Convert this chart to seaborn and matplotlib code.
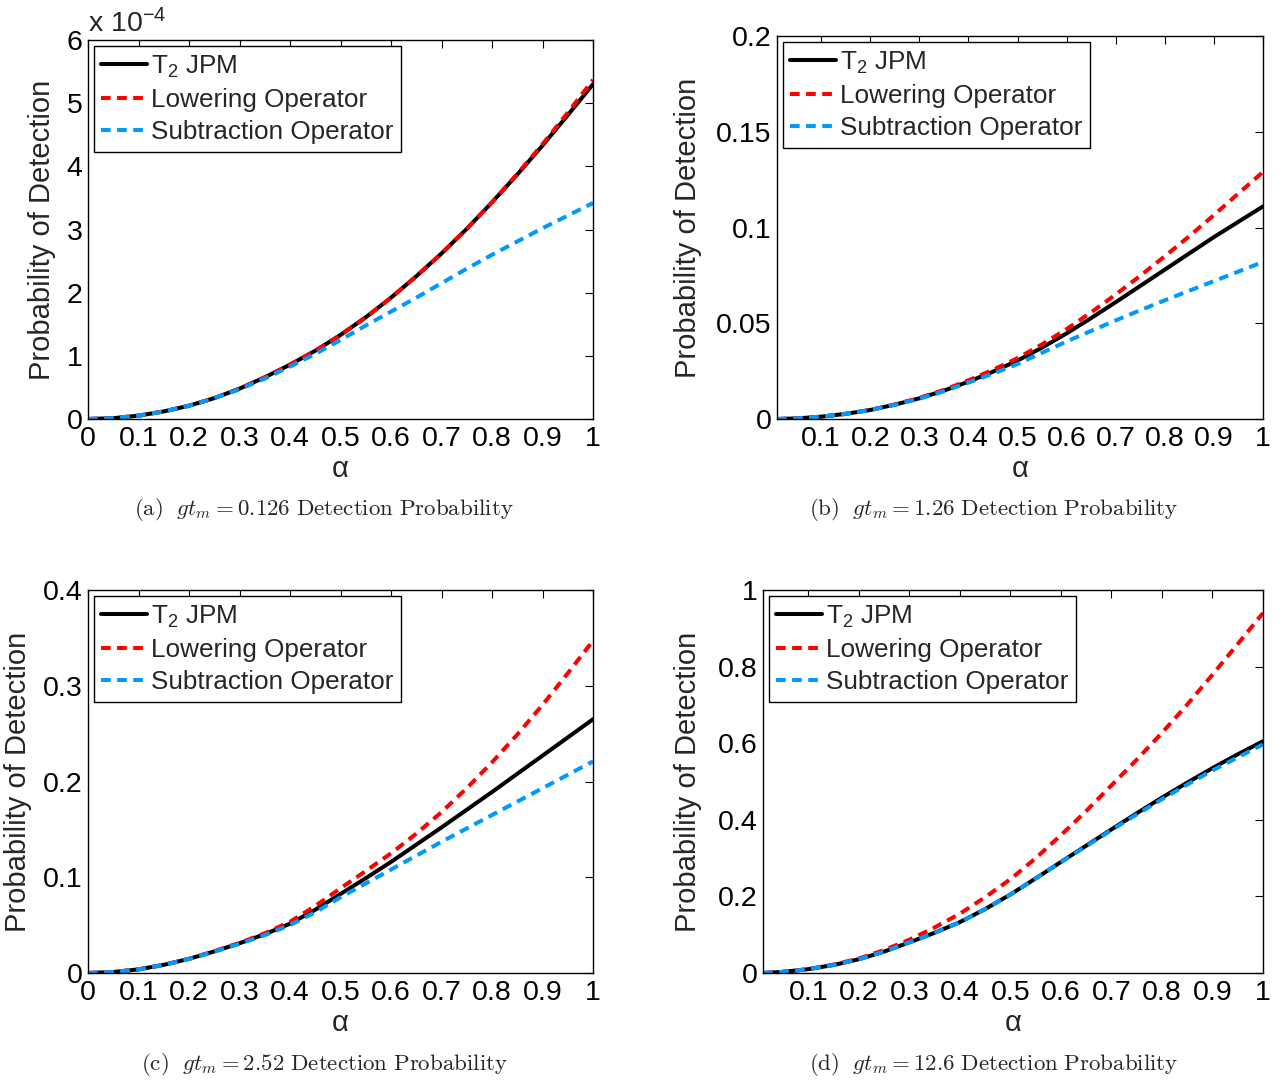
import numpy as np
import pandas as pd
import matplotlib
matplotlib.use("Agg")
import matplotlib.pyplot as plt
from matplotlib.ticker import FixedLocator, FixedFormatter
import seaborn as sns

# ---------------- data ----------------
alpha_a = [0, 0.05, 0.1, 0.15, 0.2, 0.25, 0.3, 0.35, 0.4, 0.45, 0.5,
           0.55, 0.6, 0.65, 0.7, 0.75, 0.8, 0.85, 0.9, 0.95, 1.0]
alpha_b = [0.01, 0.05, 0.1, 0.15, 0.2, 0.25, 0.3, 0.35, 0.4, 0.45, 0.5,
           0.55, 0.6, 0.65, 0.7, 0.75, 0.8, 0.85, 0.9, 0.95, 1.0]

# (a) gt_m = 0.126, values in units of 1e-4
a_jpm = [0, 0.013, 0.053, 0.12, 0.21, 0.33, 0.48, 0.66, 0.86, 1.08, 1.33,
         1.61, 1.92, 2.26, 2.62, 3.01, 3.43, 3.87, 4.33, 4.81, 5.30]
a_low = [0, 0.013, 0.053, 0.12, 0.21, 0.33, 0.48, 0.66, 0.86, 1.08, 1.33,
         1.61, 1.92, 2.26, 2.62, 3.01, 3.43, 3.88, 4.35, 4.85, 5.37]
a_sub = [0, 0.013, 0.053, 0.12, 0.21, 0.33, 0.47, 0.64, 0.83, 1.03, 1.25,
         1.48, 1.70, 1.92, 2.15, 2.38, 2.60, 2.81, 3.02, 3.22, 3.42]

# (b) gt_m = 1.26
b_jpm = [0, 0.0003, 0.0012, 0.0027, 0.0047, 0.0075, 0.0108, 0.0148, 0.0195, 0.0247, 0.0305,
         0.0373, 0.0447, 0.0527, 0.0610, 0.0695, 0.0780, 0.0865, 0.0950, 0.1030, 0.1110]
b_low = [0, 0.0003, 0.0012, 0.0027, 0.0047, 0.0076, 0.0110, 0.0152, 0.0202, 0.0257, 0.0318,
         0.0390, 0.0470, 0.0557, 0.0650, 0.0748, 0.0850, 0.0955, 0.1065, 0.1178, 0.1290]
b_sub = [0, 0.0003, 0.0012, 0.0027, 0.0047, 0.0074, 0.0106, 0.0145, 0.0190, 0.0237, 0.0287,
         0.0346, 0.0405, 0.0460, 0.0515, 0.0568, 0.0620, 0.0670, 0.0720, 0.0770, 0.0820]

# (c) gt_m = 2.52
c_jpm = [0, 0.001, 0.0038, 0.0085, 0.0148, 0.0225, 0.031, 0.0405, 0.0515, 0.066, 0.0825,
         0.099, 0.116, 0.134, 0.152, 0.1705, 0.189, 0.208, 0.227, 0.246, 0.265]
c_low = [0, 0.001, 0.0038, 0.0085, 0.0148, 0.0227, 0.0315, 0.0415, 0.0535, 0.070, 0.0885,
         0.1065, 0.125, 0.1455, 0.168, 0.193, 0.220, 0.249, 0.280, 0.313, 0.347]
c_sub = [0, 0.001, 0.0038, 0.0085, 0.0147, 0.0222, 0.0305, 0.0395, 0.050, 0.0635, 0.079,
         0.0935, 0.108, 0.1225, 0.137, 0.151, 0.165, 0.179, 0.193, 0.207, 0.221]

# (d) gt_m = 12.6
d_jpm = [0, 0.003, 0.010, 0.021, 0.036, 0.056, 0.080, 0.105, 0.133, 0.167, 0.205,
         0.247, 0.290, 0.3325, 0.375, 0.417, 0.458, 0.497, 0.535, 0.571, 0.605]
d_low = [0, 0.003, 0.010, 0.022, 0.038, 0.060, 0.087, 0.119, 0.155, 0.198, 0.245,
         0.300, 0.360, 0.423, 0.490, 0.557, 0.627, 0.701, 0.779, 0.859, 0.940]
d_sub = [0, 0.003, 0.010, 0.021, 0.036, 0.056, 0.080, 0.105, 0.133, 0.167, 0.205,
         0.247, 0.290, 0.331, 0.373, 0.414, 0.454, 0.492, 0.529, 0.563, 0.597]

series_labels = ["T$_2$ JPM", "Lowering Operator", "Subtraction Operator"]
captions = [r"$\mathrm{(a)}\ \ gt_m = 0.126\ \mathrm{Detection\ Probability}$",
            r"$\mathrm{(b)}\ \ gt_m = 1.26\ \mathrm{Detection\ Probability}$",
            r"$\mathrm{(c)}\ \ gt_m = 2.52\ \mathrm{Detection\ Probability}$",
            r"$\mathrm{(d)}\ \ gt_m = 12.6\ \mathrm{Detection\ Probability}$"]

xticks_full = [0, 0.1, 0.2, 0.3, 0.4, 0.5, 0.6, 0.7, 0.8, 0.9, 1]
xticklabels_full = ["0", "0.1", "0.2", "0.3", "0.4", "0.5", "0.6", "0.7", "0.8", "0.9", "1"]

yticks_a = [0, 1e-4, 2e-4, 3e-4, 4e-4, 5e-4, 6e-4]
yticklabels_a = ["0", "1", "2", "3", "4", "5", "6"]
yticks_b = [0, 0.05, 0.1, 0.15, 0.2]
yticklabels_b = ["0", "0.05", "0.1", "0.15", "0.2"]
yticks_c = [0, 0.1, 0.2, 0.3, 0.4]
yticklabels_c = ["0", "0.1", "0.2", "0.3", "0.4"]
yticks_d = [0, 0.2, 0.4, 0.6, 0.8, 1.0]
yticklabels_d = ["0", "0.2", "0.4", "0.6", "0.8", "1"]

# ---------------- style ----------------
sns.set_style("white")
plt.rcParams["font.family"] = ["Liberation Sans", "DejaVu Sans"]
plt.rcParams["mathtext.fontset"] = "custom"
plt.rcParams["mathtext.rm"] = "Liberation Sans"
plt.rcParams["mathtext.it"] = "Liberation Sans:italic"
plt.rcParams["mathtext.bf"] = "Liberation Sans:bold"
plt.rcParams["xtick.direction"] = "in"
plt.rcParams["ytick.direction"] = "in"

BLACK = "#000000"
RED = "#ff0000"
BLUE = "#0099ff"
DASH = (0, (2.4, 1.6))
LW = 2.9

fig = plt.figure(figsize=(12.83, 10.83), dpi=100)

W, H = 1283.0, 1083.0
def rect(l, t, r, b):
    return [l / W, 1 - b / H, (r - l) / W, (b - t) / H]

panels = [
    dict(rect=rect(88, 40, 593, 419), x=alpha_a, ys=[np.array(a_jpm) * 1e-4, np.array(a_low) * 1e-4, np.array(a_sub) * 1e-4],
         xlim=(0, 1), ylim=(0, 6e-4), yt=yticks_a, ytl=yticklabels_a, ylx=-0.063, cap=(324, 510), full=True),
    dict(rect=rect(777, 36, 1263, 419), x=alpha_b, ys=[b_jpm, b_low, b_sub],
         xlim=(0.01, 1), ylim=(0, 0.2), yt=yticks_b, ytl=yticklabels_b, ylx=-0.154, cap=(994, 510), full=False),
    dict(rect=rect(88, 590, 593, 973), x=alpha_a, ys=[c_jpm, c_low, c_sub],
         xlim=(0, 1), ylim=(0, 0.4), yt=yticks_c, ytl=yticklabels_c, ylx=-0.111, cap=(324, 1064), full=True),
    dict(rect=rect(763, 590, 1263, 973), x=alpha_b, ys=[d_jpm, d_low, d_sub],
         xlim=(0.01, 1), ylim=(0, 1.0), yt=yticks_d, ytl=yticklabels_d, ylx=-0.122, cap=(994, 1064), full=False),
]

for i, p in enumerate(panels):
    ax = fig.add_axes(p["rect"])
    colors = [BLACK, RED, BLUE]
    styles = ["-", DASH, DASH]
    for y, col, ls, lab in zip(p["ys"], colors, styles, series_labels):
        df = pd.DataFrame({"alpha": p["x"], "P": y})
        sns.lineplot(data=df, x="alpha", y="P", ax=ax, color=col, linestyle=ls,
                     linewidth=LW, label=lab, sort=False)
    ax.set_xlim(*p["xlim"])
    ax.set_ylim(*p["ylim"])
    if p["full"]:
        ax.xaxis.set_major_locator(FixedLocator(xticks_full))
        ax.xaxis.set_major_formatter(FixedFormatter(xticklabels_full))
    else:
        ax.xaxis.set_major_locator(FixedLocator(xticks_full[1:]))
        ax.xaxis.set_major_formatter(FixedFormatter(xticklabels_full[1:]))
    ax.yaxis.set_major_locator(FixedLocator(p["yt"]))
    ax.yaxis.set_major_formatter(FixedFormatter(p["ytl"]))
    ax.tick_params(axis="both", which="major", labelsize=20.5, length=6, width=0.8,
                   top=True, right=True, color="black", labelcolor="black")
    ax.tick_params(axis="x", pad=5)
    ax.tick_params(axis="y", pad=4)
    for s in ax.spines.values():
        s.set_visible(True)
        s.set_color("black")
        s.set_linewidth(1.0)
    ax.set_xlabel("α", fontsize=21, labelpad=2)
    ax.set_ylabel("Probability of Detection", fontsize=21)
    ax.yaxis.set_label_coords(p["ylx"], 0.5)
    ax.grid(False)
    handles, labels = ax.get_legend_handles_labels()
    leg = ax.legend(handles, labels, loc="upper left", fontsize=18.8, frameon=True,
                    fancybox=False, edgecolor="black", framealpha=1,
                    handlelength=1.75, handletextpad=0.15, borderpad=0.28,
                    labelspacing=0.32, borderaxespad=0.23)
    leg.get_frame().set_linewidth(1.0)
    if i == 0:
        ax.text(0.0, 1.005, r"x 10$^{-4}$", transform=ax.transAxes, fontsize=20.5,
                ha="left", va="bottom")
    cx, cy = p["cap"]
    fig.text(cx / W, 1 - cy / H, captions[i], ha="center", va="center",
             fontsize=16.5, math_fontfamily="cm")

fig.savefig("out.png", dpi=100)
